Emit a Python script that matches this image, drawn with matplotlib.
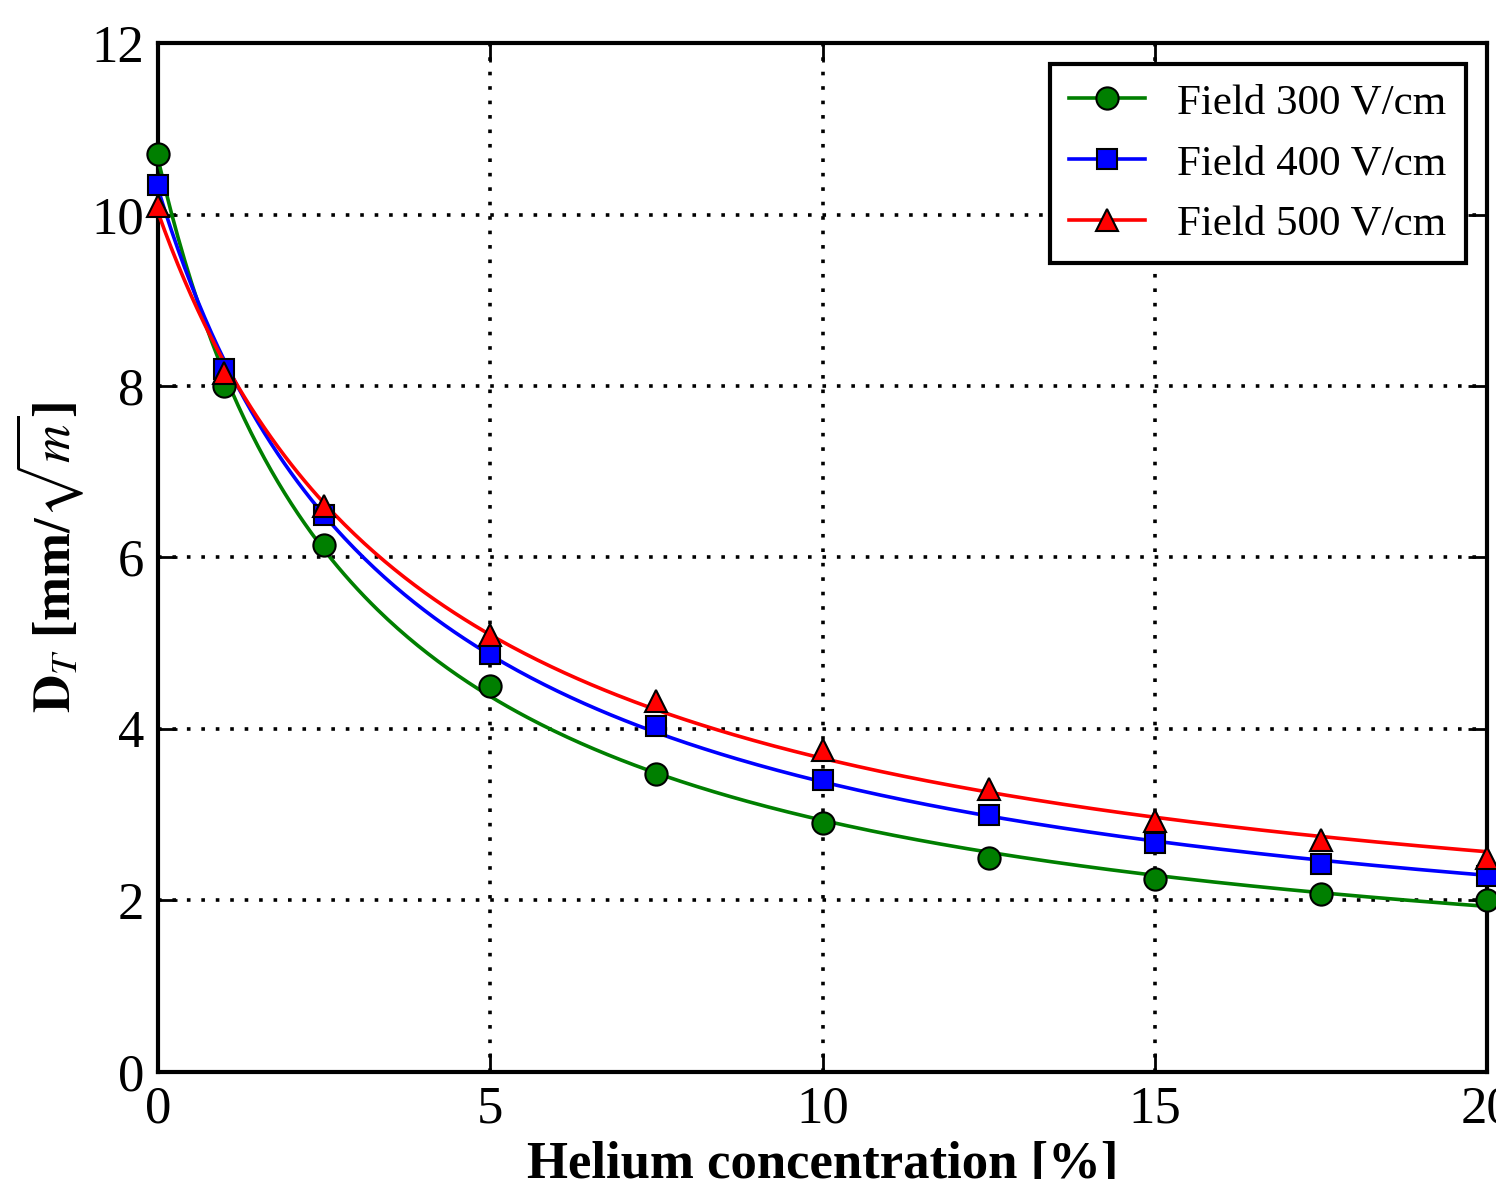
import numpy as np
import matplotlib
matplotlib.use("Agg")
import matplotlib.pyplot as plt

# ---- data ----
helium = [0, 1, 2.5, 5, 7.5, 10, 12.5, 15, 17.5, 20]
field300 = [10.7, 8.0, 6.15, 4.5, 3.48, 2.9, 2.5, 2.25, 2.08, 2.0]
field400 = [10.35, 8.2, 6.5, 4.88, 4.03, 3.4, 3.0, 2.67, 2.43, 2.28]
field500 = [10.1, 8.15, 6.6, 5.1, 4.33, 3.75, 3.3, 2.93, 2.7, 2.5]
labels = ["Field 300 V/cm", "Field 400 V/cm", "Field 500 V/cm"]
xticks = [0, 5, 10, 15, 20]
yticks = [0, 2, 4, 6, 8, 10, 12]

plt.rcParams['font.family'] = ['Liberation Serif', 'DejaVu Serif']
plt.rcParams['mathtext.fontset'] = 'stix'


def fit_curve(x, y, xs):
    """least-squares fit y = c + a/(x+b) + d/(x+b)^2, grid over b"""
    x = np.asarray(x, float)
    y = np.asarray(y, float)
    best = None
    for b in np.linspace(0.5, 15, 300):
        u = 1.0 / (x + b)
        A = np.vstack([np.ones_like(u), u, u ** 2]).T
        coef, *_ = np.linalg.lstsq(A, y, rcond=None)
        r = np.sum((A @ coef - y) ** 2)
        if best is None or r < best[0]:
            best = (r, b, coef)
    _, b, coef = best
    u = 1.0 / (xs + b)
    return coef[0] + coef[1] * u + coef[2] * u ** 2


fig = plt.figure(figsize=(14.96, 11.79), dpi=100)
ax = fig.add_axes([0.1056, 0.0908, 0.8884, 0.8727])

xs = np.linspace(0, 20, 400)
styles = [("#007f00", "o", 16), ("#0000ff", "s", 15), ("#ff0000", "^", 16)]
for ys, lab, (c, m, ms) in zip([field300, field400, field500], labels, styles):
    ax.plot(xs, fit_curve(helium, ys, xs), color=c, lw=2.6, zorder=3)
    ax.plot(helium, ys, linestyle='none', marker=m, ms=ms, mfc=c,
            mec='black', mew=1.5, zorder=4, clip_on=False)
    ax.plot([], [], color=c, lw=2.6, marker=m, ms=ms, mfc=c, mec='black',
            mew=1.5, label=lab)

ax.set_xlim(0, 20)
ax.set_ylim(0, 12)
ax.set_xticks(xticks)
ax.set_yticks(yticks)
ax.tick_params(direction='in', length=14, width=2, labelsize=38,
               top=True, right=True, pad=10)
for s in ax.spines.values():
    s.set_linewidth(3)
ax.grid(True, linestyle=(0, (1, 3)), color='black', lw=2.6)

ax.set_xlabel("Helium concentration [%]", fontsize=38, fontweight='bold',
              labelpad=5)
ax.set_ylabel(r"$\mathbf{D}_T$ [mm/$\sqrt{m}$]", fontsize=38,
              fontweight='bold', labelpad=4)

leg = ax.legend(loc='upper right', fontsize=31, frameon=True, fancybox=False,
                framealpha=1, edgecolor='black', borderpad=0.45,
                handlelength=1.75, handletextpad=0.75, labelspacing=0.5,
                borderaxespad=0, bbox_to_anchor=(0.984, 0.9796))
leg.get_frame().set_linewidth(3)
leg.set_zorder(10)

fig.savefig("out.png", dpi=100)
